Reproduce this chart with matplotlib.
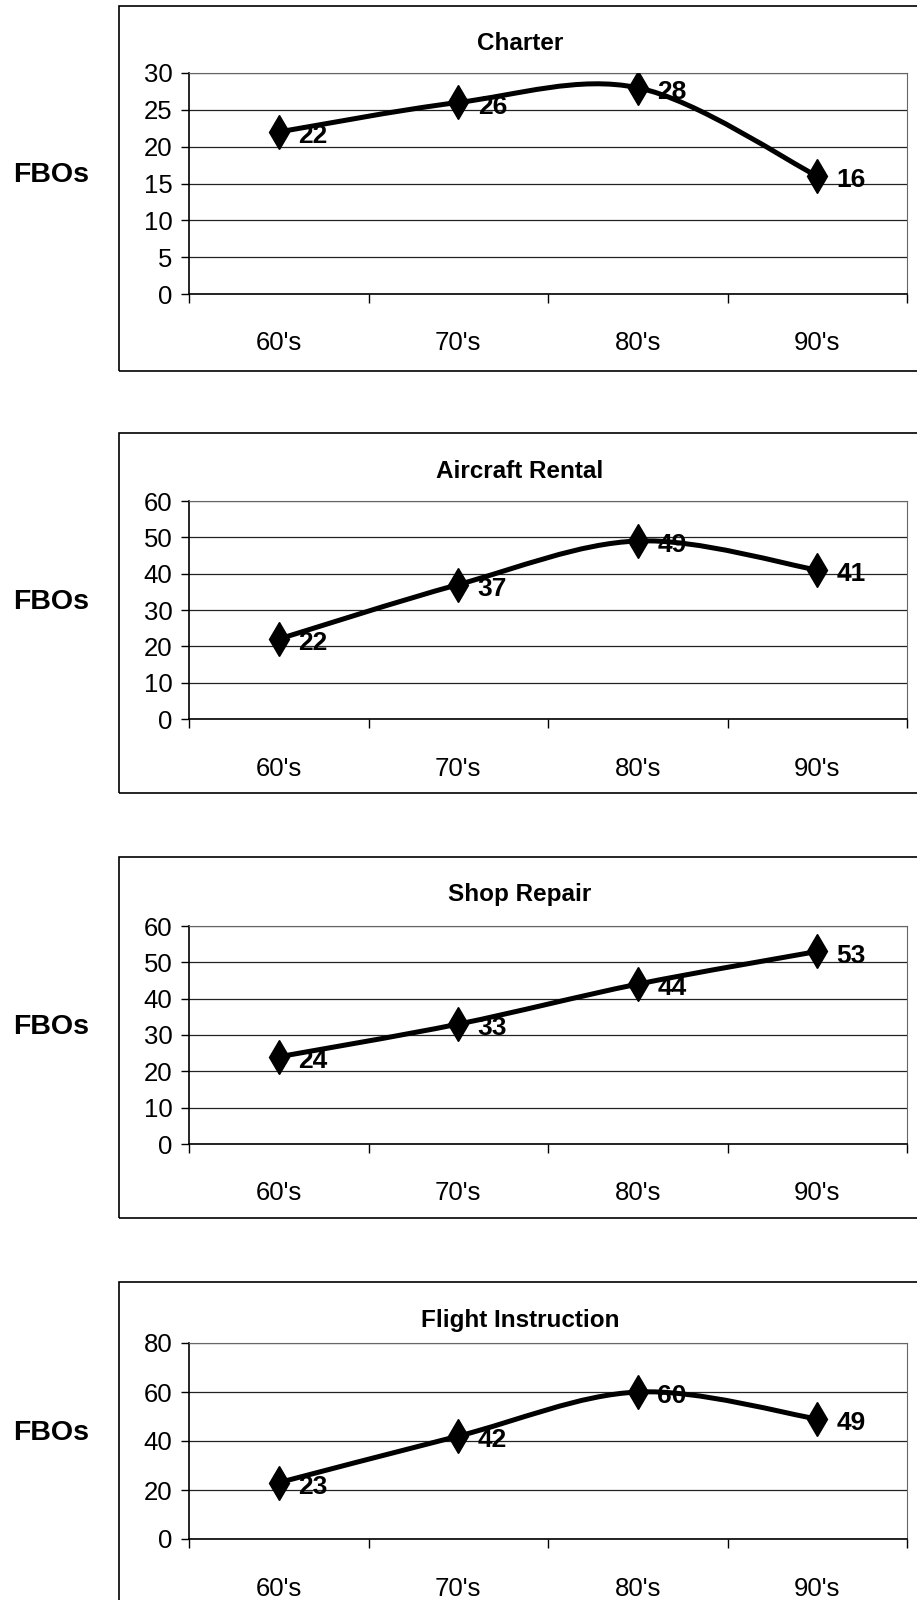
import numpy as np
import matplotlib
matplotlib.use("Agg")
import matplotlib.pyplot as plt
from matplotlib.path import Path
from matplotlib.patches import PathPatch, Rectangle

plt.rcParams['font.family'] = ['Liberation Sans', 'DejaVu Sans']

# --- data ---
decades = ["60's", "70's", "80's", "90's"]
titles = ["Charter", "Aircraft Rental", "Shop Repair", "Flight Instruction"]
charter = [22, 26, 28, 16]
aircraft_rental = [22, 37, 49, 41]
shop_repair = [24, 33, 44, 53]
flight_instruction = [23, 42, 60, 49]
series = [charter, aircraft_rental, shop_repair, flight_instruction]
ymaxes = [30, 60, 60, 80]
ysteps = [5, 10, 10, 20]

# --- layout in pixels (box top, plot top, plot bottom, box bottom) ---
W, H = 917, 1600
layout = [(6, 73, 294, 371), (433, 501, 719, 793),
          (857, 926, 1144, 1218), (1282, 1343, 1539, 1660)]
ax_left, ax_right = 189, 907
box_left, box_right = 119, 940


def smooth_path(xs, ys):
    # excel-like smoothed line: cubic bezier through the points
    n = len(xs)
    verts = [(xs[0], ys[0])]
    codes = [Path.MOVETO]
    for i in range(n - 1):
        a = max(i - 1, 0)
        b = min(i + 2, n - 1)
        c1 = (xs[i] + (xs[i + 1] - xs[a]) / 6.0, ys[i] + (ys[i + 1] - ys[a]) / 6.0)
        c2 = (xs[i + 1] - (xs[b] - xs[i]) / 6.0, ys[i + 1] - (ys[b] - ys[i]) / 6.0)
        verts += [c1, c2, (xs[i + 1], ys[i + 1])]
        codes += [Path.CURVE4] * 3
    return Path(verts, codes)


fig = plt.figure(figsize=(W / 100.0, H / 100.0), dpi=100)

x = np.arange(len(decades))
for k in range(4):
    bt, pt, pb, bb = layout[k]
    vals = series[k]

    # chart frame
    fig.add_artist(Rectangle((box_left / W, 1 - bb / H), (box_right - box_left) / W,
                             (bb - bt) / H, transform=fig.transFigure,
                             fill=False, ec='black', lw=1.2))

    ax = fig.add_axes([ax_left / W, 1 - pb / H, (ax_right - ax_left) / W, (pb - pt) / H])
    ax.set_xlim(-0.5, len(decades) - 0.5)
    ax.set_ylim(0, ymaxes[k])
    ax.set_yticks(np.arange(0, ymaxes[k] + 1, ysteps[k]))
    ax.yaxis.grid(True, color='#222222', lw=0.9)
    ax.set_axisbelow(True)

    ax.set_xticks(np.arange(-0.5, len(decades), 1.0))
    ax.set_xticklabels([])
    ax.set_xticks(x, minor=True)
    ax.set_xticklabels(decades, minor=True)
    ax.tick_params(axis='x', which='major', direction='out', length=6.5, width=1)
    ax.tick_params(axis='x', which='minor', length=0, pad=27, labelsize=18.5)
    ax.tick_params(axis='y', direction='out', length=6, width=1, pad=6, labelsize=18.5)

    for s in ['left', 'bottom']:
        ax.spines[s].set_color('black')
        ax.spines[s].set_linewidth(1.2)
    for s in ['top', 'right']:
        ax.spines[s].set_color('#666666')
        ax.spines[s].set_linewidth(0.8)

    ax.add_patch(PathPatch(smooth_path(x, vals), fill=False, ec='black', lw=3.6,
                           capstyle='round', joinstyle='round', zorder=3))
    ax.plot(x, vals, ls='none', marker='d', ms=17, color='black', zorder=4)

    for xi, v in zip(x, vals):
        ax.annotate(str(v), (xi, v), xytext=(14, -3), textcoords='offset points',
                    ha='left', va='center', fontsize=19, fontweight='bold', zorder=5)

    fig.text(520 / W, 1 - (bt + 38) / H, titles[k], ha='center', va='center',
             fontsize=17.5, fontweight='bold')
    fig.text(51 / W, 1 - ((pt + pb) / 2.0 - 8) / H, 'FBOs', ha='center', va='center',
             fontsize=20.5, fontweight='bold')

fig.savefig('out.png', dpi=100)
